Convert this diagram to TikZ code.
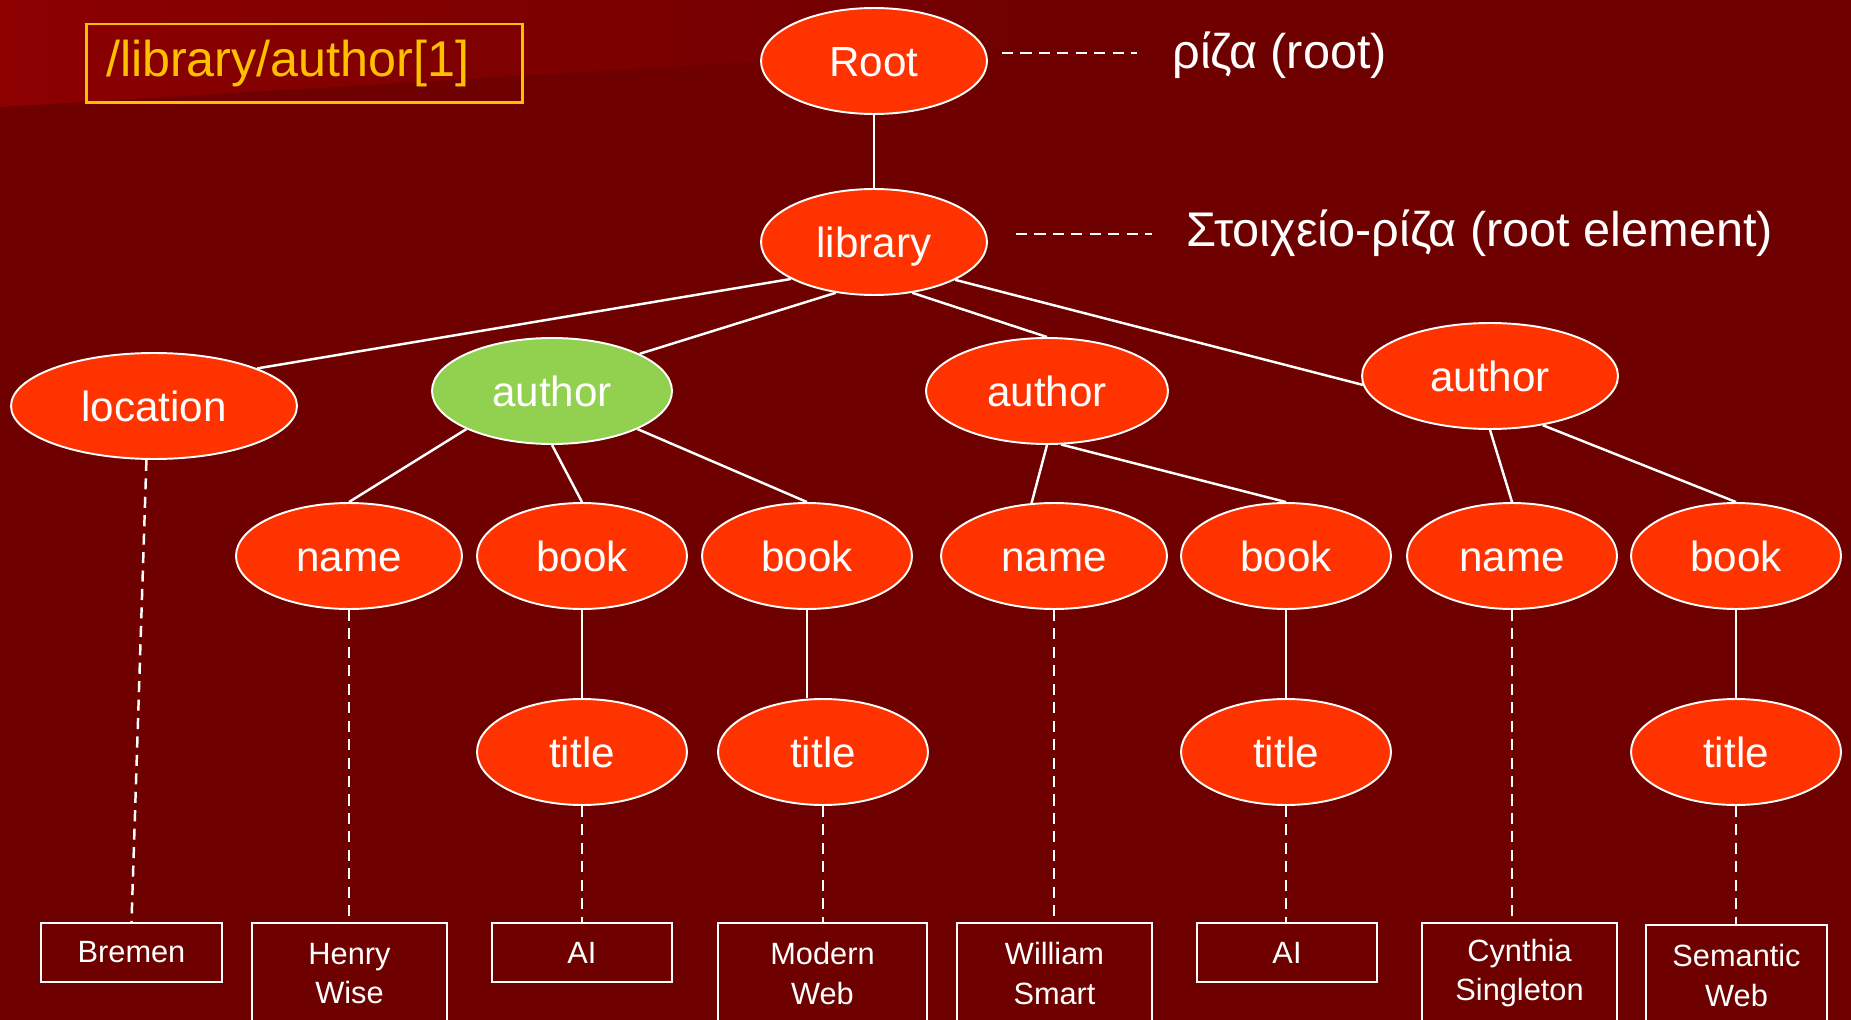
\documentclass[tikz,border=0pt]{standalone}
\usepackage{fontspec}
\setmainfont{Liberation Sans}
\usepackage{xcolor}
\usepackage{tikz}
\usetikzlibrary{shapes.geometric}
\definecolor{bgred}{HTML}{6E0000}
\definecolor{bglight}{HTML}{8C0000}
\definecolor{nodered}{HTML}{FF3300}
\definecolor{nodegreen}{HTML}{92D050}
\definecolor{pathyellow}{HTML}{FFC000}

\begin{document}
\begin{tikzpicture}[x=0.02cm,y=-0.02cm,
    elem/.style={ellipse, draw=white, line width=1.1pt, fill=nodered, text=white, inner sep=0pt,
      minimum width=#1, minimum height=2.12cm, text height=18.2pt, text depth=0pt,
      font=\fontsize{24}{28}\selectfont},
    elem/.default=4.2cm,
    valbox/.style={draw=white, line width=1.2pt, text=white, inner sep=0pt, align=center,
      minimum width=#1, minimum height=1.18cm, font=\fontsize{17.5}{22.2}\selectfont},
    tallbox/.style={valbox=#1, minimum height=2.02cm},
    treeline/.style={draw=white, line width=1.4pt},
    dashline/.style={draw=white, line width=1.4pt, dash pattern=on 6.3pt off 4.2pt},
    sidelabel/.style={text=white, inner sep=0pt, anchor=west, font=\fontsize{27.7}{32}\selectfont}]
    \useasboundingbox (0,0) rectangle (1851,1020);
    \clip (0,0) rectangle (1851,1020);
    \fill[bgred] (0,0) rectangle (1851,1020);
    \shade[left color=bglight, right color=bgred] (0,0) -- (1100,0) -- (1100,41) -- (0,107) -- cycle;

    \node[draw=pathyellow, line width=1.7pt, text=pathyellow, text width=7.94cm, inner xsep=0.4cm, inner ysep=0pt,
      align=left, minimum height=1.58cm, font=\fontsize{28.6}{32}\selectfont] (xpath) at (304.5,63.5) {/library/author[1]};

    \node[elem=4.52cm] (root) at (874,61) {Root};
    \node[elem=4.52cm] (library) at (874,242) {library};
    \node[elem=5.72cm] (location) at (154,406) {location};
    \node[elem=4.8cm, fill=nodegreen] (authorA) at (552,391) {author};
    \node[elem=4.84cm] (authorB) at (1047,391) {author};
    \node[elem=5.12cm] (authorC) at (1490,376) {author};
    \node[elem=4.52cm] (nameA) at (349,556) {name};
    \node[elem] (bookA) at (582,556) {book};
    \node[elem] (bookB) at (807,556) {book};
    \node[elem=4.52cm] (nameB) at (1054,556) {name};
    \node[elem] (bookC) at (1286,556) {book};
    \node[elem] (nameC) at (1512,556) {name};
    \node[elem] (bookD) at (1736,556) {book};
    \node[elem] (titleA) at (582,752) {title};
    \node[elem] (titleB) at (823,752) {title};
    \node[elem] (titleC) at (1286,752) {title};
    \node[elem] (titleD) at (1736,752) {title};

    \node[valbox=3.62cm] (bremen) at (131.5,952.5) {Bremen};
    \node[tallbox=3.9cm] (henry) at (349.5,973.5) {Henry\\Wise};
    \node[valbox=3.6cm] (aiA) at (582,952.5) {AI};
    \node[tallbox=4.18cm] (modern) at (822.5,973.5) {Modern\\Web};
    \node[tallbox=3.9cm] (william) at (1054.5,973.5) {William\\Smart};
    \node[valbox=3.6cm] (aiB) at (1287,952.5) {AI};
    \node[tallbox=3.9cm] (cynthia) at (1519.5,973.5) {Cynthia\\Singleton};
    \node[tallbox=3.62cm] (semantic) at (1736.5,975.5) {Semantic\\Web};

    \node[sidelabel] (rootlbl) at (1172,55) {ρίζα (root)};
    \node[sidelabel] (librarylbl) at (1186,233) {Στοιχείο-ρίζα (root element)};
    \draw[dashline] (rootlbl.west) ++(-170,-2) -- ++(135,0);
    \draw[dashline] (librarylbl.west) ++(-170,1) -- ++(136,0);

    \draw[treeline] (root) -- (library);
    \draw[treeline] (library.204) -- (location.20);
    \draw[treeline] (library.233) -- (authorA.23);
    \draw[treeline] (library.307) -- (authorB.north);
    \draw[treeline] (library.335) -- (authorC.184);
    \draw[treeline] (authorA.204) -- (nameA.north);
    \draw[treeline] (authorA.south) -- (bookA.north);
    \draw[treeline] (authorA.336) -- (bookB.north);
    \draw[treeline] (authorB.south) -- (nameB.113);
    \draw[treeline] (authorB.285) -- (bookC.north);
    \draw[treeline] (authorC.south) -- (nameC.north);
    \draw[treeline] (authorC.317) -- (bookD.north);
    \draw[treeline] (bookA) -- (titleA);
    \draw[treeline] (bookB.south) -- (bookB.south |- titleB.north);
    \draw[treeline] (bookC) -- (titleC);
    \draw[treeline] (bookD) -- (titleD);

    \draw[dashline] (location.262) -- (bremen.north);
    \draw[dashline] (nameA.south) -- (nameA.south |- henry.north);
    \draw[dashline] (titleA.south) -- (aiA.north);
    \draw[dashline] (titleB.south) -- (titleB.south |- modern.north);
    \draw[dashline] (nameB.south) -- (nameB.south |- william.north);
    \draw[dashline] (titleC.south) -- (titleC.south |- aiB.north);
    \draw[dashline] (nameC.south) -- (nameC.south |- cynthia.north);
    \draw[dashline] (titleD.south) -- (titleD.south |- semantic.north);
\end{tikzpicture}
\end{document}
